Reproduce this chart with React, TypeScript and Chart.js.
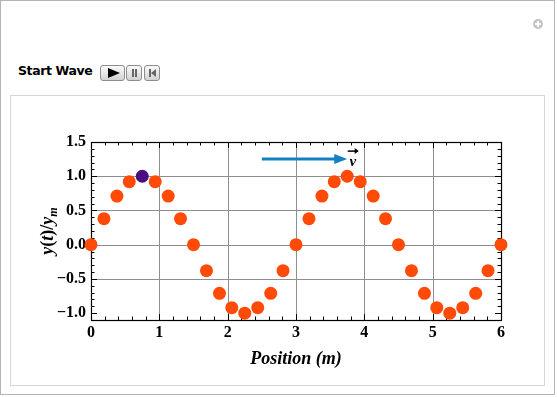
import React, { useEffect, useRef } from "react";
import { Chart, registerables } from "chart.js";

Chart.register(...registerables);

// ---- data ----
const positions = [
  0, 0.19, 0.38, 0.56, 0.75, 0.94, 1.13, 1.31, 1.5, 1.69, 1.88, 2.06, 2.25, 2.44, 2.63, 2.81,
  3.0, 3.19, 3.38, 3.56, 3.75, 3.94, 4.13, 4.31, 4.5, 4.69, 4.88, 5.06, 5.25, 5.44, 5.63, 5.81, 6.0,
];
const displacement = [
  0, 0.38, 0.71, 0.92, 1.0, 0.92, 0.71, 0.38, 0, -0.38, -0.71, -0.92, -1.0, -0.92, -0.71, -0.38,
  0, 0.38, 0.71, 0.92, 1.0, 0.92, 0.71, 0.38, 0, -0.38, -0.71, -0.92, -1.0, -0.92, -0.71, -0.38, 0,
];
const highlightIndex = 4;

const xTickValues = [0, 1, 2, 3, 4, 5, 6];
const yTickValues = [-1.0, -0.5, 0.0, 0.5, 1.0, 1.5];
const xGridValues = [1, 2, 3, 4, 5];
const yGridValues = [-0.5, 0.0, 0.5, 1.0];
const xRange = [0, 6];
const yRange = [-1.1, 1.5];
const xMinorStep = 0.2;
const yMinorStep = 0.1;

const arrowFrom = [2.5, 1.25];
const arrowTo = [3.75, 1.25];
const velocityLabelAt = [3.83, 1.25];

const xTitle = "Position (m)";

const SERIF = '"Liberation Serif", "Times New Roman", serif';

function segment(ctx: CanvasRenderingContext2D, x1: number, y1: number, x2: number, y2: number) {
  ctx.beginPath();
  ctx.moveTo(x1, y1);
  ctx.lineTo(x2, y2);
  ctx.stroke();
}

const decorPlugin = {
  id: "decor",
  beforeDatasetsDraw(chart: any) {
    const { ctx, chartArea, scales } = chart;
    const { left, right, top, bottom } = chartArea;
    const x = scales.x;
    const y = scales.y;
    ctx.save();
    // grid lines
    ctx.strokeStyle = "#8e8e8e";
    ctx.lineWidth = 1;
    xGridValues.forEach((v) => {
      const px = Math.round(x.getPixelForValue(v)) + 0.5;
      segment(ctx, px, top, px, bottom);
    });
    yGridValues.forEach((v) => {
      const py = Math.round(y.getPixelForValue(v)) + 0.5;
      segment(ctx, left, py, right, py);
    });
    // ticks (inside frame, all sides)
    ctx.strokeStyle = "#000";
    const nx = Math.round((xRange[1] - xRange[0]) / xMinorStep);
    for (let i = 0; i <= nx; i++) {
      const v = xRange[0] + i * xMinorStep;
      const major = i % 5 === 0;
      const len = major ? 6 : 3.5;
      const px = Math.round(x.getPixelForValue(v)) + 0.5;
      segment(ctx, px, bottom, px, bottom - len);
      segment(ctx, px, top, px, top + len);
    }
    const i0 = Math.round(yRange[0] / yMinorStep);
    const i1 = Math.round(yRange[1] / yMinorStep);
    for (let i = i0; i <= i1; i++) {
      const v = i * yMinorStep;
      const major = i % 5 === 0;
      const len = major ? 6 : 3.5;
      const py = Math.round(y.getPixelForValue(v)) + 0.5;
      segment(ctx, left, py, left + len, py);
      segment(ctx, right, py, right - len, py);
    }
    // frame
    ctx.lineWidth = 1.2;
    ctx.strokeRect(left + 0.5, top + 0.5, right - left, bottom - top);

    // velocity arrow
    const ax1 = x.getPixelForValue(arrowFrom[0]);
    const ay = y.getPixelForValue(arrowFrom[1]);
    const ax2 = x.getPixelForValue(arrowTo[0]);
    ctx.strokeStyle = "#1480c4";
    ctx.fillStyle = "#1480c4";
    ctx.lineWidth = 3;
    segment(ctx, ax1, ay, ax2 - 10, ay);
    ctx.beginPath();
    ctx.moveTo(ax2, ay);
    ctx.lineTo(ax2 - 13, ay - 5);
    ctx.lineTo(ax2 - 13, ay + 5);
    ctx.closePath();
    ctx.fill();

    // v label with vector arrow
    const lx = x.getPixelForValue(velocityLabelAt[0]);
    const ly = y.getPixelForValue(velocityLabelAt[1]);
    ctx.fillStyle = "#000";
    ctx.font = `bold italic 15px ${SERIF}`;
    ctx.textAlign = "center";
    ctx.textBaseline = "alphabetic";
    ctx.fillText("v", lx, ly + 7);
    ctx.strokeStyle = "#000";
    ctx.lineWidth = 1.5;
    const vy = ly - 8;
    segment(ctx, lx - 5, vy, lx + 5, vy);
    ctx.beginPath();
    ctx.moveTo(lx + 6, vy);
    ctx.lineTo(lx + 2, vy - 3);
    ctx.lineTo(lx + 2, vy + 3);
    ctx.closePath();
    ctx.fill();
    ctx.restore();
  },
  afterDraw(chart: any) {
    const { ctx, chartArea } = chart;
    const { left, right, top, bottom } = chartArea;
    ctx.save();
    ctx.fillStyle = "#000";
    // x title
    ctx.font = `bold italic 18px ${SERIF}`;
    ctx.textAlign = "center";
    ctx.textBaseline = "alphabetic";
    ctx.fillText(xTitle, (left + right) / 2, bottom + 44);

    // y title: y(t)/y_m, rotated
    const big = 18;
    const small = 12;
    const parts: { t: string; f: string; dy: number }[] = [
      { t: "y", f: `bold italic ${big}px ${SERIF}`, dy: 0 },
      { t: "(", f: `bold ${big}px ${SERIF}`, dy: 0 },
      { t: "t", f: `bold italic ${big}px ${SERIF}`, dy: 0 },
      { t: ")", f: `bold ${big}px ${SERIF}`, dy: 0 },
      { t: "/", f: `bold ${big}px ${SERIF}`, dy: 0 },
      { t: "y", f: `bold italic ${big}px ${SERIF}`, dy: 0 },
      { t: "m", f: `bold italic ${small}px ${SERIF}`, dy: 4 },
    ];
    let total = 0;
    const widths = parts.map((p) => {
      ctx.font = p.f;
      const w = ctx.measureText(p.t).width;
      total += w;
      return w;
    });
    const cx = left - 44;
    const cy = (top + bottom) / 2;
    ctx.translate(cx, cy);
    ctx.rotate(-Math.PI / 2);
    ctx.textAlign = "left";
    let px = -total / 2;
    parts.forEach((p, i) => {
      ctx.font = p.f;
      ctx.fillText(p.t, px, 6 + p.dy);
      px += widths[i];
    });
    ctx.restore();
  },
};

export default function App() {
  const canvasRef = useRef<HTMLCanvasElement | null>(null);

  useEffect(() => {
    const canvas = canvasRef.current;
    if (!canvas) return;
    const points = positions.map((p, i) => ({ x: p, y: displacement[i] }));
    const chart = new Chart(canvas, {
      type: "scatter",
      data: {
        datasets: [
          {
            data: points,
            pointRadius: 6.5,
            pointHoverRadius: 6.5,
            pointBorderWidth: 0,
            pointBackgroundColor: (c: any) => (c.dataIndex === highlightIndex ? "#4b0c80" : "#ff4a08"),
            pointBorderColor: "rgba(0,0,0,0)",
            clip: false as any,
          },
        ],
      },
      options: {
        responsive: false,
        animation: false,
        events: [],
        layout: { padding: { left: 0, right: 42, top: 46, bottom: 0 } },
        plugins: { legend: { display: false }, tooltip: { enabled: false } },
        scales: {
          x: {
            type: "linear",
            min: xRange[0],
            max: xRange[1],
            afterBuildTicks: (s: any) => {
              s.ticks = xTickValues.map((v) => ({ value: v }));
            },
            afterFit: (s: any) => {
              s.height = 64;
            },
            ticks: {
              color: "#000",
              font: { family: SERIF, size: 16, weight: "bold" },
              padding: 3,
              maxRotation: 0,
              autoSkip: false,
              callback: (v: any) => String(v),
            },
            grid: { display: false, drawTicks: false, tickLength: 0 },
            border: { display: false },
          },
          y: {
            type: "linear",
            min: yRange[0],
            max: yRange[1],
            afterBuildTicks: (s: any) => {
              s.ticks = yTickValues.map((v) => ({ value: v }));
            },
            afterFit: (s: any) => {
              s.width = 80;
            },
            ticks: {
              color: "#000",
              font: { family: SERIF, size: 16, weight: "bold" },
              padding: 5,
              autoSkip: false,
              callback: (v: any) => Number(v).toFixed(1).replace("-", "\u2212"),
            },
            grid: { display: false, drawTicks: false, tickLength: 0 },
            border: { display: false },
          },
        },
      },
      plugins: [decorPlugin],
    } as any);
    return () => chart.destroy();
  }, []);

  const btn: React.CSSProperties = {
    position: "absolute",
    top: 65,
    height: 16,
    border: "1px solid #8d8d8d",
    borderRadius: 3,
    background: "linear-gradient(#fbfbfb, #d2d2d2)",
    boxSizing: "border-box",
  };

  return (
    <div
      style={{
        position: "absolute",
        left: 0,
        top: 0,
        width: 557,
        height: 397,
        background: "#fff",
        overflow: "hidden",
      }}
    >
      {/* outer panel */}
      <div
        style={{
          position: "absolute",
          left: 0,
          top: 0,
          width: 555,
          height: 395,
          border: "1px solid #b4b4b4",
          boxSizing: "border-box",
        }}
      />
      {/* plus icon */}
      <div
        style={{
          position: "absolute",
          left: 533,
          top: 19,
          width: 10,
          height: 10,
          borderRadius: 5,
          background: "#c4c4c4",
        }}
      >
        <div style={{ position: "absolute", left: 2, top: 4, width: 6, height: 2, background: "#fff" }} />
        <div style={{ position: "absolute", left: 4, top: 2, width: 2, height: 6, background: "#fff" }} />
      </div>
      {/* control label */}
      <div
        style={{
          position: "absolute",
          left: 18,
          top: 63,
          fontFamily: '"DejaVu Sans", Verdana, sans-serif',
          fontWeight: "bold",
          fontSize: 12.5,
          letterSpacing: -0.4,
          color: "#000",
          whiteSpace: "nowrap",
        }}
      >
        Start Wave
      </div>
      {/* buttons */}
      <div style={{ ...btn, left: 100, width: 25 }}>
        <div
          style={{
            position: "absolute",
            left: 7,
            top: 2,
            width: 0,
            height: 0,
            borderTop: "5.5px solid transparent",
            borderBottom: "5.5px solid transparent",
            borderLeft: "12px solid #000",
          }}
        />
      </div>
      <div style={{ ...btn, left: 126, width: 16 }}>
        <div style={{ position: "absolute", left: 5, top: 3, width: 2, height: 8, background: "#666" }} />
        <div style={{ position: "absolute", left: 8, top: 3, width: 2, height: 8, background: "#666" }} />
      </div>
      <div style={{ ...btn, left: 144, width: 16 }}>
        <div style={{ position: "absolute", left: 4, top: 3, width: 1.5, height: 8, background: "#666" }} />
        <div
          style={{
            position: "absolute",
            left: 6,
            top: 3,
            width: 0,
            height: 0,
            borderTop: "4px solid transparent",
            borderBottom: "4px solid transparent",
            borderRight: "5px solid #666",
          }}
        />
      </div>
      {/* inner frame */}
      <div
        style={{
          position: "absolute",
          left: 10,
          top: 95,
          width: 535,
          height: 291,
          border: "1px solid #d6d6d6",
          boxSizing: "border-box",
        }}
      />
      <canvas
        ref={canvasRef}
        width={532}
        height={288}
        style={{ position: "absolute", left: 11, top: 96, width: 532, height: 288 }}
      />
    </div>
  );
}
